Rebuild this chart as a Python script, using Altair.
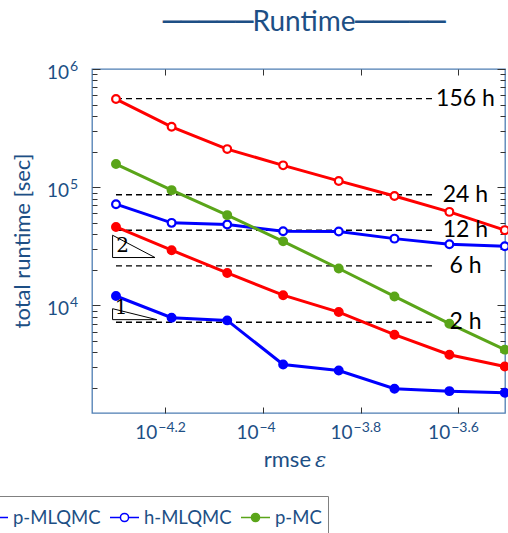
import altair as alt
import pandas as pd

# ---------------- data ----------------
series = ["p-MLMC", "h-MLMC", "p-MLQMC", "h-MLQMC", "p-MC"]
stroke_colors = ["#ff0000", "#ff0000", "#0000ff", "#0000ff", "#5aa519"]
fill_colors = ["#ff0000", "#ffffff", "#0000ff", "#ffffff", "#5aa519"]

rmse = [5.0e-5, 6.5e-5, 8.45e-5, 1.10e-4, 1.43e-4, 1.86e-4, 2.41e-4, 3.13e-4]
rt_p_mlmc = [4.61e4, 2.93e4, 1.88e4, 1.22e4, 8.77e3, 5.65e3, 3.82e3, 3.04e3]
rt_h_mlmc = [5.57e5, 3.24e5, 2.10e5, 1.53e5, 1.13e5, 8.43e4, 6.18e4, 4.33e4]
rt_p_mlqmc = [1.20e4, 7.87e3, 7.46e3, 3.16e3, 2.81e3, 1.97e3, 1.88e3, 1.82e3]
rt_h_mlqmc = [7.18e4, 4.99e4, 4.83e4, 4.24e4, 4.22e4, 3.67e4, 3.29e4, 3.16e4]
rt_p_mc = [1.57e5, 9.44e4, 5.80e4, 3.48e4, 2.05e4, 1.19e4, 7.0e3, 4.22e3]

hours = [156, 24, 12, 6, 2]
hour_labels = ["156 h", "24 h", "12 h", "6 h", "2 h"]
hour_line_start = 5.0e-5
hour_line_end = 2.23e-4
hour_label_x = 2.6e-4

# slope triangles (corner points) and their labels
tri_id = ["2", "2", "2", "2", "1", "1", "1", "1"]
tri_x = [4.92e-5, 4.92e-5, 6.01e-5, 4.92e-5, 4.92e-5, 4.92e-5, 6.06e-5, 4.92e-5]
tri_y = [3.92e4, 2.54e4, 2.54e4, 3.92e4, 9.37e3, 7.57e3, 7.57e3, 9.37e3]
tri_label = ["2", "1"]
tri_label_x = [5.16e-5, 5.12e-5]
tri_label_y = [3.16e4, 9.44e3]

x_ticks = [10 ** -4.2, 1e-4, 10 ** -3.8, 10 ** -3.6]
x_tick_exp = ["\u22124.2", "\u22124", "\u22123.8", "\u22123.6"]
x_tick_short = [False, True, False, False]
y_major = [1e4, 1e5, 1e6]
y_major_exp = ["4", "5", "6"]
y_minor = [2e3, 3e3, 4e3, 5e3, 6e3, 7e3, 8e3, 9e3,
           2e4, 3e4, 4e4, 5e4, 6e4, 7e4, 8e4, 9e4,
           2e5, 3e5, 4e5, 5e5, 6e5, 7e5, 8e5, 9e5]

title_word = "Runtime"
title_dashes = "\u2500\u2500\u2500\u2500\u2500"

# ---------------- styling ----------------
FONT = "Lato"
TXT = "#1d4f85"
FRAME = "#4d7db3"
TICK = "#333333"
W, H = 413, 344

xs = alt.Scale(type="log", domain=[4.465e-5, 3.133e-4], nice=False)
ys = alt.Scale(type="log", domain=[1228, 1e6], nice=False)
stroke_scale = alt.Scale(domain=series, range=stroke_colors)
fill_scale = alt.Scale(domain=series, range=fill_colors)

R = 0.28
SYM = (f"M-1,0H-{R}M{R},0H1M-{R},0A{R},{R},0,1,0,{R},0A{R},{R},0,1,0,-{R},0")
LEG = alt.Legend(orient="none", legendX=-354, legendY=427, direction="horizontal",
                 title=None, symbolType=SYM, symbolSize=841, symbolStrokeWidth=1.5,
                 labelFont=FONT, labelFontSize=18.5, labelColor=TXT, labelOffset=4,
                 labelExpr="datum.label == 'p-MC' ? 'p-MC\u00a0' : datum.label",
                 columnPadding=6, padding=6, strokeColor="#808080", fillColor="white")


def ax(orient, values, size):
    return alt.Axis(orient=orient, values=values, tickSize=size, offset=-size,
                    domain=False, labels=False, grid=False, title=None,
                    tickColor=TICK, tickWidth=1)


# ---------------- tables ----------------
df = pd.DataFrame({
    "rmse": rmse * 5,
    "runtime": rt_p_mlmc + rt_h_mlmc + rt_p_mlqmc + rt_h_mlqmc + rt_p_mc,
    "series": [s for s in series for _ in rmse],
})
hdf = pd.DataFrame({"sec": [h * 3600 for h in hours], "label": hour_labels,
                    "x0": hour_line_start, "x1": hour_line_end, "lx": hour_label_x})
tdf = pd.DataFrame({"tx": tri_x, "ty": tri_y, "tid": tri_id, "ord": list(range(len(tri_x)))})
tldf = pd.DataFrame({"lx": tri_label_x, "ly": tri_label_y, "t": tri_label})
xtdf = pd.DataFrame({"v": x_ticks, "e": x_tick_exp, "short": x_tick_short})
ytdf = pd.DataFrame({"v": y_major, "e": y_major_exp})
one = pd.DataFrame({"a": [0]})

# ---------------- layers ----------------
rules = alt.Chart(hdf).mark_rule(color="black", strokeWidth=1.4, strokeDash=[6, 4]).encode(
    x=alt.X("x0:Q", scale=xs, axis=ax("bottom", x_ticks, 6)), x2="x1:Q",
    y=alt.Y("sec:Q", scale=ys, axis=ax("left", y_major, 8)))

tris = alt.Chart(tdf).mark_line(color="black", strokeWidth=1).encode(
    x=alt.X("tx:Q", scale=xs, axis=None), y=alt.Y("ty:Q", scale=ys, axis=None),
    detail="tid:N", order="ord:Q")

lines = alt.Chart(df).mark_line(strokeWidth=3).encode(
    x=alt.X("rmse:Q", scale=xs, axis=None),
    y=alt.Y("runtime:Q", scale=ys, axis=ax("right", y_major, 8)),
    stroke=alt.Stroke("series:N", scale=stroke_scale, legend=LEG))

points = alt.Chart(df).mark_point(shape="circle", size=60, strokeWidth=2.2, opacity=1).encode(
    x=alt.X("rmse:Q", scale=xs, axis=None),
    y=alt.Y("runtime:Q", scale=ys, axis=ax("right", y_minor, 5)),
    stroke=alt.Stroke("series:N", scale=stroke_scale, legend=LEG),
    fill=alt.Fill("series:N", scale=fill_scale, legend=LEG))

hour_text = alt.Chart(hdf).mark_text(font=FONT, fontSize=23, color="black",
                                     align="center", baseline="middle").encode(
    x=alt.X("lx:Q", scale=xs, axis=ax("top", x_ticks, 6)),
    y=alt.Y("sec:Q", scale=ys, axis=ax("left", y_minor, 5)), text="label:N")

tri_text = alt.Chart(tldf).mark_text(font="DejaVu Serif", fontSize=20, color="black",
                                     align="center", baseline="middle").encode(
    x=alt.X("lx:Q", scale=xs, axis=None), y=alt.Y("ly:Q", scale=ys, axis=None), text="t:N")

# tick labels: base "10" and superscript exponent
xl = []
for short, dxb in [(True, -4.5), (False, -8)]:
    base = alt.Chart(xtdf).transform_filter(alt.datum.short == short).mark_text(
        font=FONT, fontSize=19, color=TXT, align="right", baseline="alphabetic", dx=dxb).encode(
        x=alt.X("v:Q", scale=xs, axis=None), y=alt.value(H + 26), text=alt.value("10"))
    expo = alt.Chart(xtdf).transform_filter(alt.datum.short == short).mark_text(
        font=FONT, fontSize=14, color=TXT, align="left", baseline="alphabetic", dx=dxb + 1).encode(
        x=alt.X("v:Q", scale=xs, axis=None), y=alt.value(H + 19), text="e:N")
    xl += [base, expo]

ybase = alt.Chart(ytdf).mark_text(font=FONT, fontSize=19, color=TXT, align="right",
                                  baseline="alphabetic", dy=10).encode(
    y=alt.Y("v:Q", scale=ys, axis=None), x=alt.value(-23), text=alt.value("10"))
yexp = alt.Chart(ytdf).mark_text(font=FONT, fontSize=14, color=TXT, align="left",
                                 baseline="alphabetic", dy=2).encode(
    y=alt.Y("v:Q", scale=ys, axis=None), x=alt.value(-22), text="e:N")

ytitle = alt.Chart(one).mark_text(font=FONT, fontSize=22, color=TXT, angle=270,
                                  align="center", baseline="middle").encode(
    x=alt.value(-69), y=alt.value(H / 2), text=alt.value("total runtime [sec]"))
xtitle1 = alt.Chart(one).mark_text(font=FONT, fontSize=22, color=TXT, align="right",
                                   baseline="alphabetic").encode(
    x=alt.value(219), y=alt.value(398), text=alt.value("rmse"))
xtitle2 = alt.Chart(one).mark_text(font="DejaVu Serif", fontStyle="italic", fontSize=21,
                                   color=TXT, align="left", baseline="alphabetic").encode(
    x=alt.value(223), y=alt.value(398), text=alt.value("\u03b5"))

# title: word flanked by joined box-drawing lines
ttl = alt.Chart(one).mark_text(font=FONT, fontSize=28, color=TXT, align="center",
                               baseline="alphabetic").encode(
    x=alt.value(212), y=alt.value(-38), text=alt.value(title_word))
ttl_l = alt.Chart(one).mark_text(font="DejaVu Sans", fontSize=30, color=TXT, align="right",
                                 baseline="middle").encode(
    x=alt.value(161), y=alt.value(-46), text=alt.value(title_dashes))
ttl_r = alt.Chart(one).mark_text(font="DejaVu Sans", fontSize=30, color=TXT, align="left",
                                 baseline="middle").encode(
    x=alt.value(263), y=alt.value(-46), text=alt.value(title_dashes))

chart = alt.layer(
    rules, tris, lines, points, hour_text, tri_text, *xl, ybase, yexp,
    ytitle, xtitle1, xtitle2, ttl, ttl_l, ttl_r
).resolve_axis(x="independent", y="independent").properties(
    width=W, height=H,
    autosize=alt.AutoSizeParams(type="none"),
    padding={"left": 92, "top": 69, "right": 3, "bottom": 120},
).configure_view(stroke=FRAME, strokeWidth=1.3)

chart.save("out.html", embed_options={"renderer": "svg", "actions": False})
